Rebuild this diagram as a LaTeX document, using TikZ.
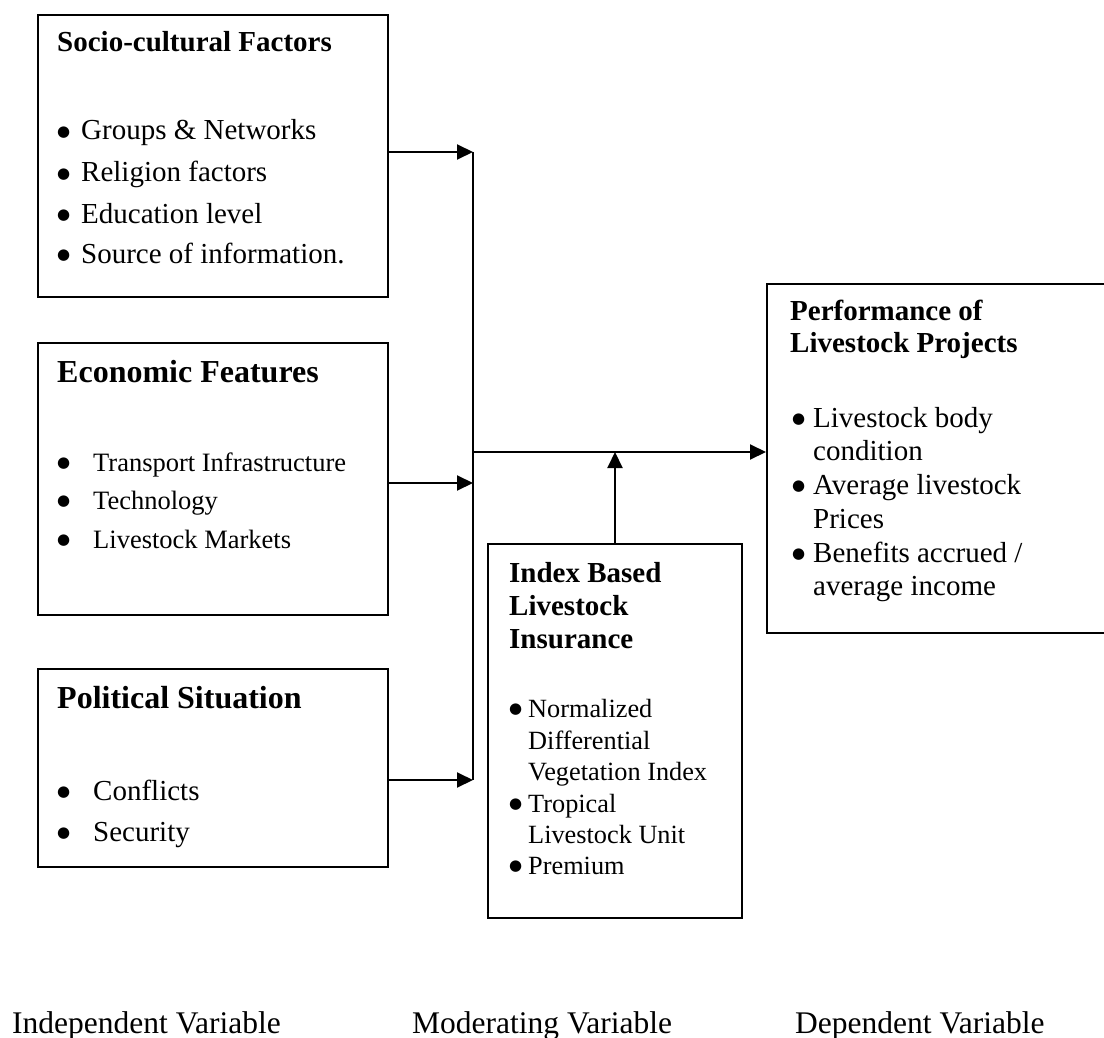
\documentclass[tikz,border=0pt]{standalone}
\usepackage{fontspec}
\setmainfont{Liberation Serif}
\newfontfamily\symfont{DejaVu Sans}
\usetikzlibrary{arrows.meta}
\newcommand\fs[1]{\fontsize{#1}{#1}\selectfont}
% round list bullet in a box of given width
\newcommand\bul[1]{\makebox[#1][l]{\raisebox{0.12em}{\symfont\fontsize{15}{15}\selectfont ●}}}
\begin{document}
\begin{tikzpicture}[x=1pt,y=-1pt,
  box/.style={draw, line width=2pt, inner sep=0pt, anchor=north west},
  txt/.style={anchor=base west, inner sep=0pt},
  wire/.style={line width=2pt},
  arr/.style={line width=2pt, -{Triangle[length=16pt,width=15pt]}}]
\useasboundingbox (0,0) rectangle (1104,1038);

% boxes
\node[box, minimum width=350pt, minimum height=282pt] (soc) at (37,14) {};
\node[box, minimum width=350pt, minimum height=272pt] (eco) at (37,342) {};
\node[box, minimum width=350pt, minimum height=198pt] (pol) at (37,668) {};
\node[box, minimum width=254pt, minimum height=374pt] (ibli) at (487,543) {};
\node[box, minimum width=344pt, minimum height=349pt] (perf) at (766,283) {};

% socio-cultural factors
\node[txt, font=\fs{29}\bfseries] (socT) at (57,52) {Socio-cultural Factors};
\node[txt, font=\fs{29}] (soc1) at (57,140) {\bul{24pt}Groups \& Networks};
\node[txt, font=\fs{29}] (soc2) at (57,182) {\bul{24pt}Religion factors};
\node[txt, font=\fs{29}] (soc3) at (57,223) {\bul{24pt}Education level};
\node[txt, font=\fs{29}] (soc4) at (57,263) {\bul{24pt}Source of information.};

% economic features
\node[txt, font=\fs{32}\bfseries] (ecoT) at (57,382) {Economic Features};
\node[txt, font=\fs{26.5}] (eco1) at (57,471) {\bul{36pt}Transport Infrastructure};
\node[txt, font=\fs{26.5}] (eco2) at (57,509) {\bul{36pt}Technology};
\node[txt, font=\fs{26.5}] (eco3) at (57,548) {\bul{36pt}Livestock Markets};

% political situation
\node[txt, font=\fs{32}\bfseries] (polT) at (57,708) {Political Situation};
\node[txt, font=\fs{29}] (pol1) at (57,800) {\bul{36pt}Conflicts};
\node[txt, font=\fs{29}] (pol2) at (57,841) {\bul{36pt}Security};

% index based livestock insurance
\node[txt, font=\fs{29}\bfseries] (ibT1) at (509,582) {Index Based};
\node[txt, font=\fs{29}\bfseries] (ibT2) at (509,615) {Livestock};
\node[txt, font=\fs{29}\bfseries] (ibT3) at (509,648) {Insurance};
\node[txt, font=\fs{26.3}] (ib1) at (509,717) {\bul{19pt}Normalized};
\node[txt, font=\fs{26.3}] (ib2) at (528,749) {Differential};
\node[txt, font=\fs{26.3}] (ib3) at (528,780) {Vegetation Index};
\node[txt, font=\fs{26.3}] (ib4) at (509,812) {\bul{19pt}Tropical};
\node[txt, font=\fs{26.3}] (ib5) at (528,843) {Livestock Unit};
\node[txt, font=\fs{26.3}] (ib6) at (509,874) {\bul{19pt}Premium};

% performance of livestock projects
\node[txt, font=\fs{29}\bfseries] (pfT1) at (790,320) {Performance of};
\node[txt, font=\fs{29}\bfseries] (pfT2) at (790,352) {Livestock Projects};
\node[txt, font=\fs{29}] (pf1) at (792,427) {\bul{21pt}Livestock body};
\node[txt, font=\fs{29}] (pf2) at (813,460) {condition};
\node[txt, font=\fs{29}] (pf3) at (792,494) {\bul{21pt}Average livestock};
\node[txt, font=\fs{29}] (pf4) at (813,528) {Prices};
\node[txt, font=\fs{29}] (pf5) at (792,562) {\bul{21pt}Benefits accrued /};
\node[txt, font=\fs{29}] (pf6) at (813,595) {average income};

% variable labels
\node[txt, font=\fs{31.5}] (lInd) at (12,1033) {Independent Variable};
\node[txt, font=\fs{31.5}] (lMod) at (412,1033) {Moderating Variable};
\node[txt, font=\fs{31.5}] (lDep) at (795,1033) {Dependent Variable};

% junction points on the collecting line
\coordinate (j1) at (473,152);
\coordinate (j2) at (473,483);
\coordinate (j3) at (473,780);
\coordinate (jm) at (473,452);

% connectors
\draw[wire] (j1) -- (j3);
\draw[arr] (soc.east |- j1) -- (j1);
\draw[arr] (eco.east |- j2) -- (j2);
\draw[arr] (pol.east |- j3) -- (j3);
\draw[arr] (jm) -- (perf.west |- jm);
\draw[arr] (ibli.north) -- (ibli.north |- jm);
\end{tikzpicture}
\end{document}
